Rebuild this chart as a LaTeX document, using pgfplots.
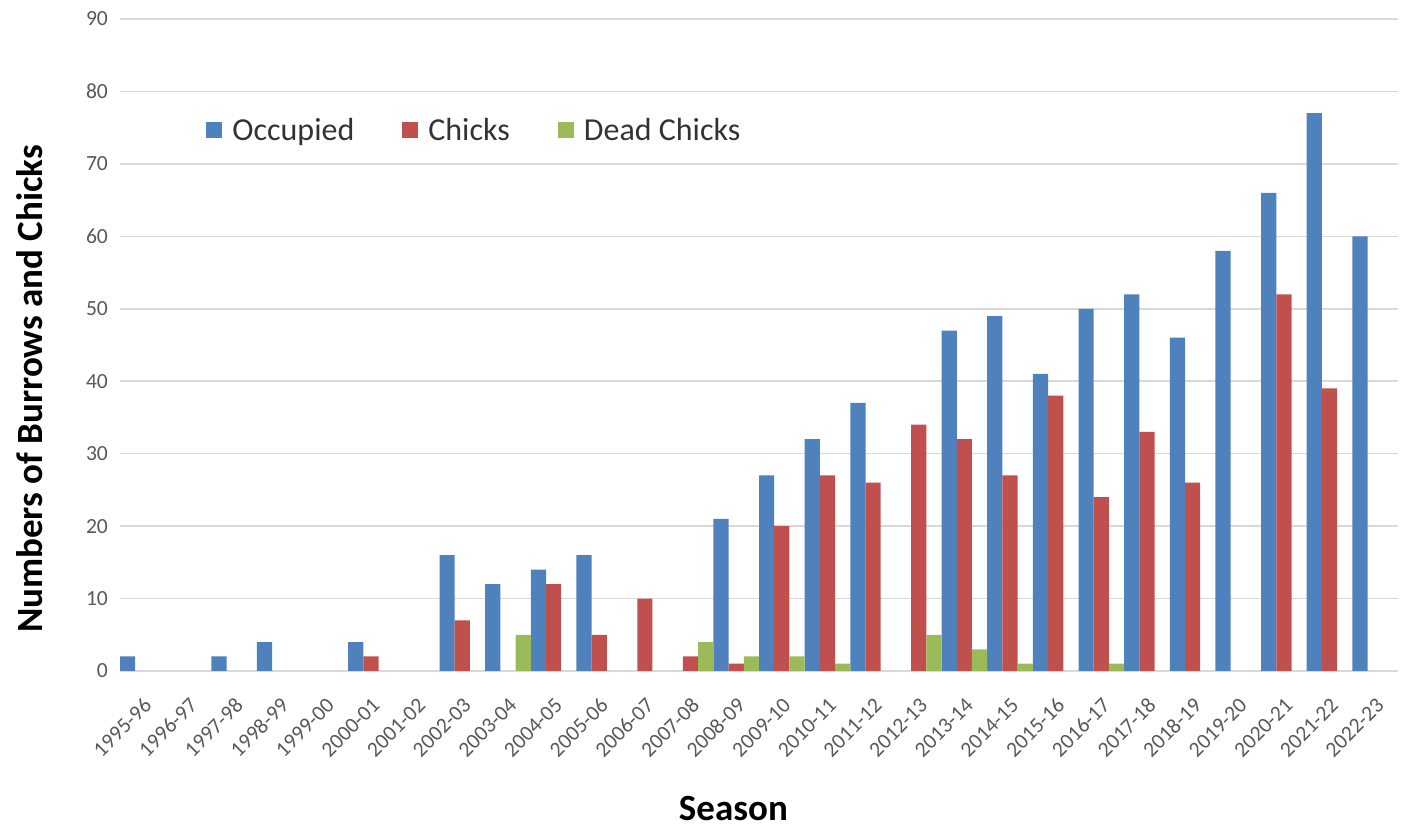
\documentclass[border=0pt]{standalone}
\usepackage{fontspec}
\setmainfont{Carlito}
\usepackage{pgfplots}
\pgfplotsset{compat=1.18}
\definecolor{occ}{HTML}{4F81BD}
\definecolor{chk}{HTML}{C0504D}
\definecolor{dead}{HTML}{9BBB59}
\definecolor{gridc}{HTML}{D9D9D9}
\definecolor{tickc}{HTML}{595959}
\pgfplotsset{sqlegend/.style={legend image code/.code={\fill[##1,draw=none] (0pt,-4pt) rectangle (8pt,4pt);}}}
\begin{document}
\begin{tikzpicture}
\begin{axis}[
  scale only axis, width=639pt, height=326pt,
  xmin=-0.5, xmax=27.5, ymin=0, ymax=90,
  ybar=0pt, bar width=7.6pt,
  ytick={0,10,...,90},
  xtick={0,...,27},
  xticklabels={1995-96,1996-97,1997-98,1998-99,1999-00,2000-01,2001-02,2002-03,2003-04,2004-05,2005-06,2006-07,2007-08,2008-09,2009-10,2010-11,2011-12,2012-13,2013-14,2014-15,2015-16,2016-17,2017-18,2018-19,2019-20,2020-21,2021-22,2022-23},
  axis line style={draw=none},
  major tick length=0pt,
  xtick style={draw=none}, ytick style={draw=none},
  ymajorgrids, grid style={gridc, line width=0.75pt},
  /pgf/number format/assume math mode=true,
  tick label style={font=\fontsize{10.8}{13}\selectfont, text=tickc},
  yticklabel style={xshift=-2.5pt},
  xticklabel style={xshift=5pt, yshift=-13pt, rotate=45, anchor=east},
  xlabel={Season}, ylabel={Numbers of Burrows and Chicks},
  every axis x label/.style={at={(rel axis cs:0.48,0)}, yshift=-69pt, anchor=center, font=\fontsize{18.5}{22}\selectfont\bfseries, text=black},
  every axis y label/.style={at={(rel axis cs:0,0.4325)}, xshift=-45pt, rotate=90, anchor=center, font=\fontsize{18.5}{22}\selectfont\bfseries, text=black},
  legend columns=3,
  legend style={draw=none, fill=none, at={(rel axis cs:0.0673,0.829)}, anchor=west, inner sep=0pt,
    font=\fontsize{16}{19}\selectfont, text=black!80,
    /tikz/every odd column/.style={column sep=3pt},
    /tikz/every even column/.style={column sep=22pt}},
]
\addplot[fill=occ, draw=none, sqlegend] coordinates {(0,2) (2,2) (3,4) (5,4) (7,16) (8,12) (9,14) (10,16) (13,21) (14,27) (15,32) (16,37) (18,47) (19,49) (20,41) (21,50) (22,52) (23,46) (24,58) (25,66) (26,77) (27,60)};
\addplot[fill=chk, draw=none, sqlegend] coordinates {(5,2) (7,7) (9,12) (10,5) (11,10) (12,2) (13,1) (14,20) (15,27) (16,26) (17,34) (18,32) (19,27) (20,38) (21,24) (22,33) (23,26) (25,52) (26,39)};
\addplot[fill=dead, draw=none, sqlegend] coordinates {(8,5) (12,4) (13,2) (14,2) (15,1) (17,5) (18,3) (19,1) (21,1)};
\legend{Occupied, Chicks, Dead Chicks}
\end{axis}
\pgfresetboundingbox
\path[use as bounding box] ([shift={(-60pt,-80pt)}]current axis.south west) rectangle ([shift={(5pt,9.5pt)}]current axis.north east);
\end{tikzpicture}
\end{document}
